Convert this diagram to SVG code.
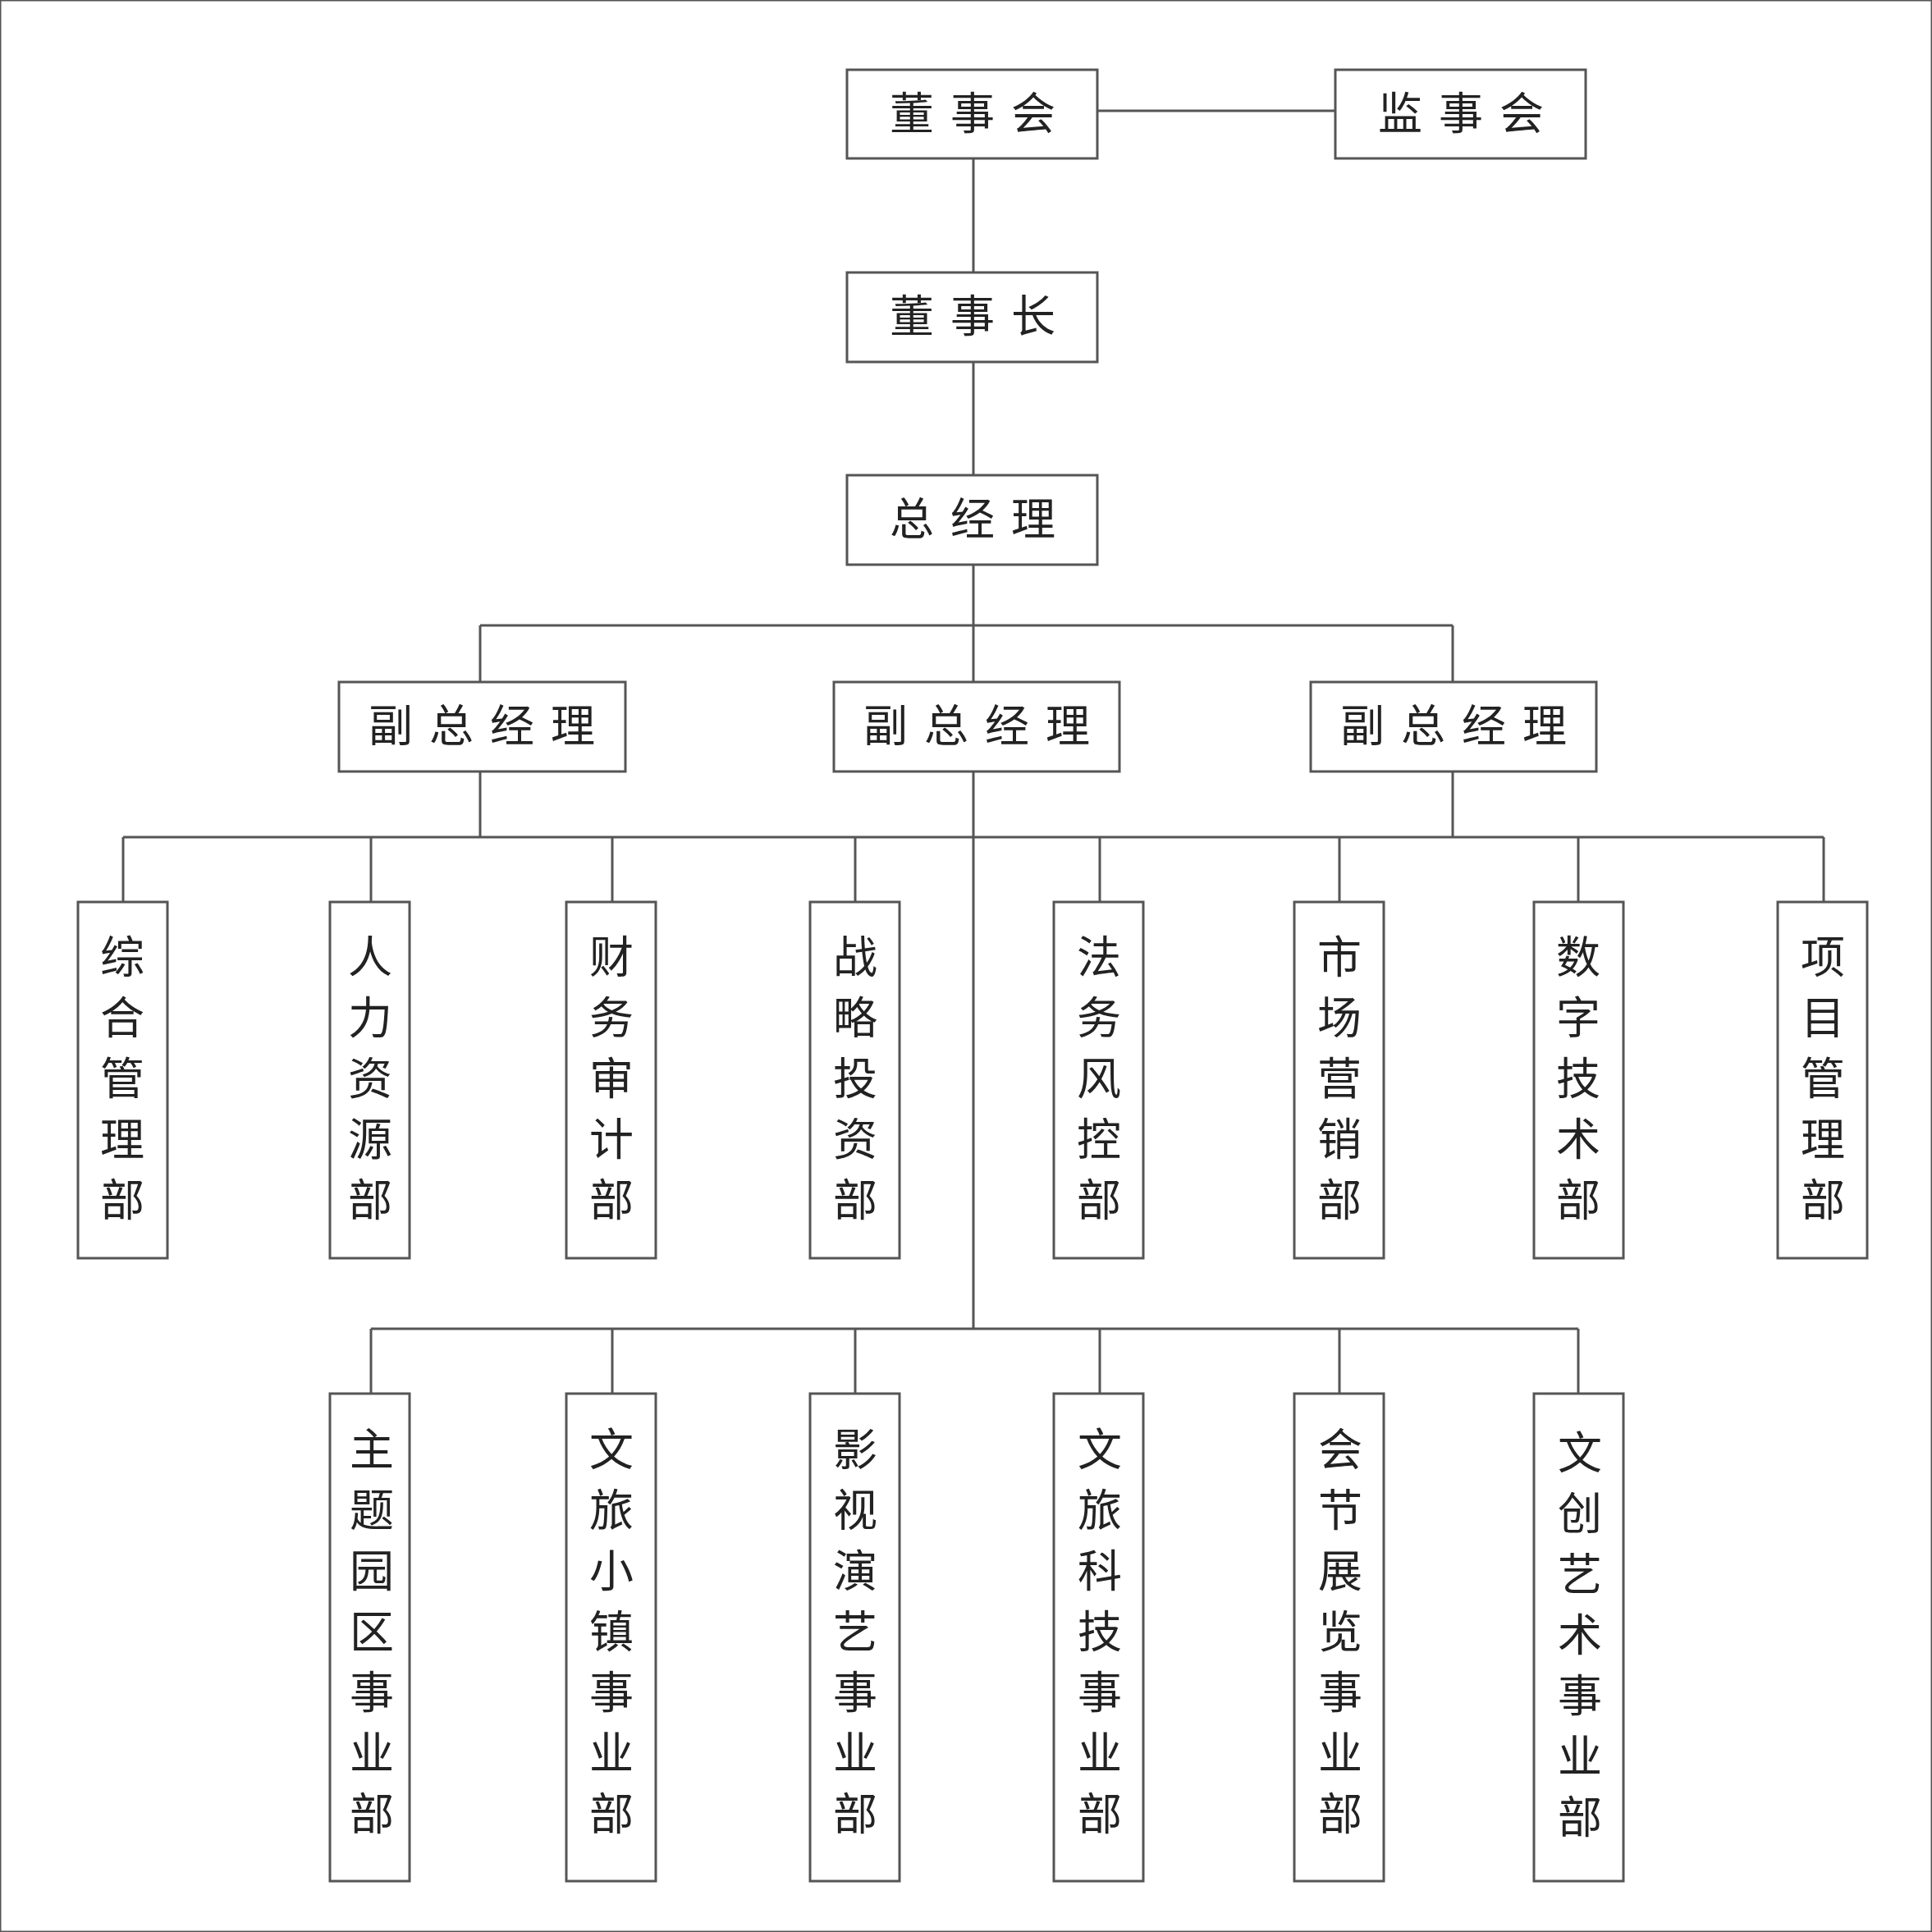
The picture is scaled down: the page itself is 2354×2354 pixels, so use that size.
<svg xmlns="http://www.w3.org/2000/svg" width="2354" height="2354" viewBox="0 0 2354 2354">
<style>
rect{fill:#fff;stroke:#555;stroke-width:3}
.c line{stroke:#555;stroke-width:3}
text{font-family:"Noto Sans CJK SC",sans-serif;fill:#222;text-anchor:middle}
.h{font-size:54px;letter-spacing:20px}
.v{font-size:54px}
</style>
<rect width="2354" height="2354" fill="#fff" stroke="none"/>
<g class="c">
<line x1="1337" y1="135" x2="1627" y2="135"/>
<line x1="1186" y1="193" x2="1186" y2="332"/>
<line x1="1186" y1="441" x2="1186" y2="579"/>
<line x1="1186" y1="688" x2="1186" y2="831"/>
<line x1="585" y1="762" x2="1770" y2="762"/>
<line x1="585" y1="762" x2="585" y2="831"/>
<line x1="1770" y1="762" x2="1770" y2="831"/>
<line x1="585" y1="940" x2="585" y2="1020"/>
<line x1="1770" y1="940" x2="1770" y2="1020"/>
<line x1="1186" y1="940" x2="1186" y2="1619"/>
<line x1="150" y1="1020" x2="2222" y2="1020"/>
<line x1="150" y1="1020" x2="150" y2="1099"/>
<line x1="452" y1="1020" x2="452" y2="1099"/>
<line x1="746" y1="1020" x2="746" y2="1099"/>
<line x1="1042" y1="1020" x2="1042" y2="1099"/>
<line x1="1340" y1="1020" x2="1340" y2="1099"/>
<line x1="1632" y1="1020" x2="1632" y2="1099"/>
<line x1="1923" y1="1020" x2="1923" y2="1099"/>
<line x1="2222" y1="1020" x2="2222" y2="1099"/>
<line x1="452" y1="1619" x2="1923" y2="1619"/>
<line x1="452" y1="1619" x2="452" y2="1698"/>
<line x1="746" y1="1619" x2="746" y2="1698"/>
<line x1="1042" y1="1619" x2="1042" y2="1698"/>
<line x1="1340" y1="1619" x2="1340" y2="1698"/>
<line x1="1632" y1="1619" x2="1632" y2="1698"/>
<line x1="1923" y1="1619" x2="1923" y2="1698"/>
</g>
<g id="dongshihui"><rect x="1032" y="85" width="305" height="108"/><text class="h" x="1195" y="158">董事会</text></g>
<g id="jianshihui"><rect x="1627" y="85" width="305" height="108"/><text class="h" x="1790" y="158">监事会</text></g>
<g id="dongshizhang"><rect x="1032" y="332" width="305" height="109"/><text class="h" x="1195" y="405">董事长</text></g>
<g id="zongjingli"><rect x="1032" y="579" width="305" height="109"/><text class="h" x="1195" y="652">总经理</text></g>
<g id="vp1"><rect x="413" y="831" width="349" height="109"/><text class="h" x="597" y="904">副总经理</text></g>
<g id="vp2"><rect x="1016" y="831" width="348" height="109"/><text class="h" x="1200" y="904">副总经理</text></g>
<g id="vp3"><rect x="1597" y="831" width="348" height="109"/><text class="h" x="1781" y="904">副总经理</text></g>
<g id="d1"><rect x="95" y="1099" width="109" height="434"/><text class="v" x="149" y="1186"><tspan x="149">综</tspan><tspan x="149" dy="74">合</tspan><tspan x="149" dy="74">管</tspan><tspan x="149" dy="74">理</tspan><tspan x="149" dy="74">部</tspan></text></g>
<g id="d2"><rect x="402" y="1099" width="97" height="434"/><text class="v" x="451" y="1186"><tspan x="451">人</tspan><tspan x="451" dy="74">力</tspan><tspan x="451" dy="74">资</tspan><tspan x="451" dy="74">源</tspan><tspan x="451" dy="74">部</tspan></text></g>
<g id="d3"><rect x="690" y="1099" width="109" height="434"/><text class="v" x="745" y="1186"><tspan x="745">财</tspan><tspan x="745" dy="74">务</tspan><tspan x="745" dy="74">审</tspan><tspan x="745" dy="74">计</tspan><tspan x="745" dy="74">部</tspan></text></g>
<g id="d4"><rect x="987" y="1099" width="109" height="434"/><text class="v" x="1042" y="1186"><tspan x="1042">战</tspan><tspan x="1042" dy="74">略</tspan><tspan x="1042" dy="74">投</tspan><tspan x="1042" dy="74">资</tspan><tspan x="1042" dy="74">部</tspan></text></g>
<g id="d5"><rect x="1284" y="1099" width="109" height="434"/><text class="v" x="1339" y="1186"><tspan x="1339">法</tspan><tspan x="1339" dy="74">务</tspan><tspan x="1339" dy="74">风</tspan><tspan x="1339" dy="74">控</tspan><tspan x="1339" dy="74">部</tspan></text></g>
<g id="d6"><rect x="1577" y="1099" width="109" height="434"/><text class="v" x="1632" y="1186"><tspan x="1632">市</tspan><tspan x="1632" dy="74">场</tspan><tspan x="1632" dy="74">营</tspan><tspan x="1632" dy="74">销</tspan><tspan x="1632" dy="74">部</tspan></text></g>
<g id="d7"><rect x="1869" y="1099" width="109" height="434"/><text class="v" x="1923" y="1186"><tspan x="1923">数</tspan><tspan x="1923" dy="74">字</tspan><tspan x="1923" dy="74">技</tspan><tspan x="1923" dy="74">术</tspan><tspan x="1923" dy="74">部</tspan></text></g>
<g id="d8"><rect x="2166" y="1099" width="109" height="434"/><text class="v" x="2221" y="1186"><tspan x="2221">项</tspan><tspan x="2221" dy="74">目</tspan><tspan x="2221" dy="74">管</tspan><tspan x="2221" dy="74">理</tspan><tspan x="2221" dy="74">部</tspan></text></g>
<g id="b1"><rect x="402" y="1698" width="97" height="594"/><text class="v" x="453" y="1786"><tspan x="453">主</tspan><tspan x="453" dy="74">题</tspan><tspan x="453" dy="74">园</tspan><tspan x="453" dy="74">区</tspan><tspan x="453" dy="74">事</tspan><tspan x="453" dy="74">业</tspan><tspan x="453" dy="74">部</tspan></text></g>
<g id="b2"><rect x="690" y="1698" width="109" height="594"/><text class="v" x="745" y="1786"><tspan x="745">文</tspan><tspan x="745" dy="74">旅</tspan><tspan x="745" dy="74">小</tspan><tspan x="745" dy="74">镇</tspan><tspan x="745" dy="74">事</tspan><tspan x="745" dy="74">业</tspan><tspan x="745" dy="74">部</tspan></text></g>
<g id="b3"><rect x="987" y="1698" width="109" height="594"/><text class="v" x="1042" y="1786"><tspan x="1042">影</tspan><tspan x="1042" dy="74">视</tspan><tspan x="1042" dy="74">演</tspan><tspan x="1042" dy="74">艺</tspan><tspan x="1042" dy="74">事</tspan><tspan x="1042" dy="74">业</tspan><tspan x="1042" dy="74">部</tspan></text></g>
<g id="b4"><rect x="1284" y="1698" width="109" height="594"/><text class="v" x="1340" y="1786"><tspan x="1340">文</tspan><tspan x="1340" dy="74">旅</tspan><tspan x="1340" dy="74">科</tspan><tspan x="1340" dy="74">技</tspan><tspan x="1340" dy="74">事</tspan><tspan x="1340" dy="74">业</tspan><tspan x="1340" dy="74">部</tspan></text></g>
<g id="b5"><rect x="1577" y="1698" width="109" height="594"/><text class="v" x="1633" y="1786"><tspan x="1633">会</tspan><tspan x="1633" dy="74">节</tspan><tspan x="1633" dy="74">展</tspan><tspan x="1633" dy="74">览</tspan><tspan x="1633" dy="74">事</tspan><tspan x="1633" dy="74">业</tspan><tspan x="1633" dy="74">部</tspan></text></g>
<g id="b6"><rect x="1869" y="1698" width="109" height="594"/><text class="v" x="1925" y="1790"><tspan x="1925">文</tspan><tspan x="1925" dy="74">创</tspan><tspan x="1925" dy="74">艺</tspan><tspan x="1925" dy="74">术</tspan><tspan x="1925" dy="74">事</tspan><tspan x="1925" dy="74">业</tspan><tspan x="1925" dy="74">部</tspan></text></g>
</svg>
